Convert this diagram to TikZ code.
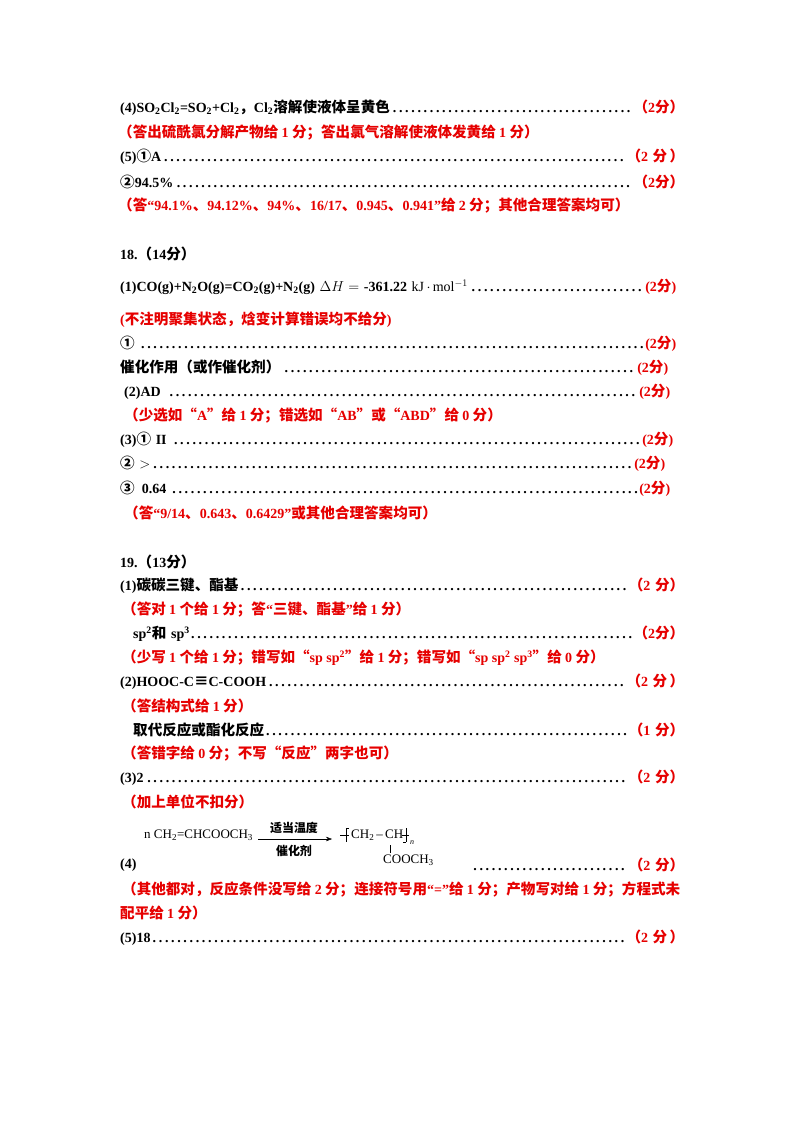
\documentclass[tikz,border=0pt]{standalone}
\usepackage{fontspec}
\usetikzlibrary{arrows.meta}
\setmainfont{Liberation Serif}
\newfontfamily\cjk{Noto Sans CJK SC}[Scale=1.04]
\newcommand\C[1]{{\cjk #1}}
\definecolor{ans}{RGB}{230,0,0}
\tikzset{txt/.style={anchor=west,inner sep=0,font=\fontsize{14}{16}\selectfont\bfseries},
 redt/.style={txt,text=ans}}
\newcommand\row[5]{\node[txt,text width=#2pt] (#5) at (#1) {#3\dotfill{\color{ans}#4}};}
\begin{document}
\begin{tikzpicture}[x=1pt,y=-1pt]
\useasboundingbox (0,0) rectangle (800,1132);
\fill[white] (0,0) rectangle (800,1132);
\row{120,108}{564}{(4)SO\textsubscript{2}Cl\textsubscript{2}=SO\textsubscript{2}+Cl\textsubscript{2}\C{，}Cl\textsubscript{2}\C{溶解使液体呈黄色}}{\C{（}2\C{分）}}{a1}
\node[redt] (a2) at (118,133) {\C{（答出硫酰氯分解产物给 }1\C{ 分；答出氯气溶解使液体发黄给 }1\C{ 分）}};
\row{120,157}{564}{(5)\C{①}A}{\C{（}2\,\,\C{分}\,\C{）}}{a3}
\row{120,182}{564}{\C{②}94.5\%}{\C{（}2\C{分）}}{a4}
\node[redt] (a5) at (118,206) {\C{（答}“94.1\%\C{、}94.12\%\C{、}94\%\C{、}16/17\C{、}0.945\C{、}0.941”\C{给 }2\C{ 分；其他合理答案均可）}};
\node[txt] (h18) at (120,254) {18.\C{（}14\C{分）}};
\row{120,287}{556}{(1)CO(g)+N\textsubscript{2}O(g)=CO\textsubscript{2}(g)+N\textsubscript{2}(g) {\mdseries$\Delta H =$} -361.22 {\mdseries kJ\,$\cdot$\,mol\textsuperscript{$-1$}}}{(2\C{分})}{b1}
\node[redt] (b2) at (120,320) {(\C{不注明聚集状态，焓变计算错误均不给分})};
\row{120,344}{556}{\C{①} }{(2\C{分})}{b3}
\row{120,368}{548}{\C{催化作用（或作催化剂）}}{(2\C{分})}{b4}
\row{124,392}{546}{(2)AD }{(2\C{分})}{b5}
\node[redt] (b6) at (124,416) {\C{（少选如“}A\C{”给 }1\C{ 分；错选如“}AB\C{”或“}ABD\C{”给 }0\C{ 分）}};
\row{120,440}{553}{(3)\C{①} II }{(2\C{分})}{b7}
\row{120,464}{545}{\C{②}\,\,{\mdseries $>$}}{(2\C{分})}{b8}
\row{120,489}{550}{\C{③}\,\,\,0.64 }{(2\C{分})}{b9}
\node[redt] (b10) at (124,513) {\C{（答}“9/14\C{、}0.643\C{、}0.6429”\C{或其他合理答案均可）}};
\node[txt] (h19) at (120,562) {19.\C{（}13\C{分）}};
\row{120,586}{564}{(1)\C{碳碳三键、酯基}}{\C{（}2\C{ 分）}}{c1}
\node[redt] (c2) at (122,610) {\C{（答对 }1\C{ 个给 }1\C{ 分；答}“\C{三键、酯基}”\C{给 }1\C{ 分）}};
\row{133,634}{551}{sp\textsuperscript{2}\C{和} sp\textsuperscript{3}}{\C{（}2\C{分）}}{c3}
\node[redt] (c4) at (122,658) {\C{（少写 }1\C{ 个给 }1\C{ 分；错写如“}sp sp\textsuperscript{2}\C{”给 }1\C{ 分；错写如“}sp sp\textsuperscript{2} sp\textsuperscript{3}\C{”给 }0\C{ 分）}};
\row{120,682}{564}{(2)HOOC-C\C{≡}C-COOH}{\C{（}2\,\,\C{分}\,\C{）}}{c5}
\node[redt] (c6) at (122,706) {\C{（答结构式给 }1\C{ 分）}};
\row{133,730}{551}{\C{取代反应或酯化反应}}{\C{（}1\C{ 分）}}{c7}
\node[redt] (c8) at (122,754) {\C{（答错字给 }0\C{ 分；不写“反应”两字也可）}};
\row{120,778}{564}{(3)2}{\C{（}2\C{ 分）}}{c9}
\node[redt] (c10) at (122,802) {\C{（加上单位不扣分）}};
% reaction
\node[anchor=west,inner sep=0,font=\fontsize{13}{15}\selectfont] (r1) at (144,835) {n CH\textsubscript{2}=CHCOOCH\textsubscript{3}};
\coordinate (ra) at (258,839); \coordinate (rb) at (332,839);
\draw[-{Stealth[length=6pt]},thin] (ra) -- (rb);
\node[inner sep=0,font=\fontsize{11.5}{13}\selectfont\bfseries] (r2) at (294,828) {\C{适当温度}};
\node[inner sep=0,font=\fontsize{11.5}{13}\selectfont\bfseries] (r3) at (294,851) {\C{催化剂}};
\node[anchor=west,inner sep=0,font=\fontsize{13}{15}\selectfont] (r4) at (351,835) {CH\textsubscript{2}\,--\,CH};
\draw[thin] (340,835) -- (349,835) (346,828) -- (346,842) (346,828) -- (349,828);
\draw[thin] (402,835) -- (409,835) (406,828) -- (406,842) (403,842) -- (406,842);
\node[inner sep=0,font=\fontsize{8}{9}\selectfont\itshape] (r5) at (412,843) {n};
\draw[thin] (390,845) -- (390,853);
\node[anchor=west,inner sep=0,font=\fontsize{13}{15}\selectfont] (r6) at (383,860) {COOCH\textsubscript{3}};
\node[txt] (c11) at (120,865) {(4)};
\node[txt,text width=215pt] (c12) at (469,865) {\dotfill{\color{ans}\C{（}2\C{ 分）}}};
\node[redt] (c13) at (122,889) {\C{（其他都对，反应条件没写给 }2\C{ 分；连接符号用}“=”\C{给 }1\C{ 分；产物写对给 }1\C{ 分；方程式未}};
\node[redt] (c14) at (120,913) {\C{配平给 }1\C{ 分）}};
\row{120,938}{564}{(5)18}{\C{（}2\,\,\C{分}\,\C{）}}{c15}
\end{tikzpicture}
\end{document}
